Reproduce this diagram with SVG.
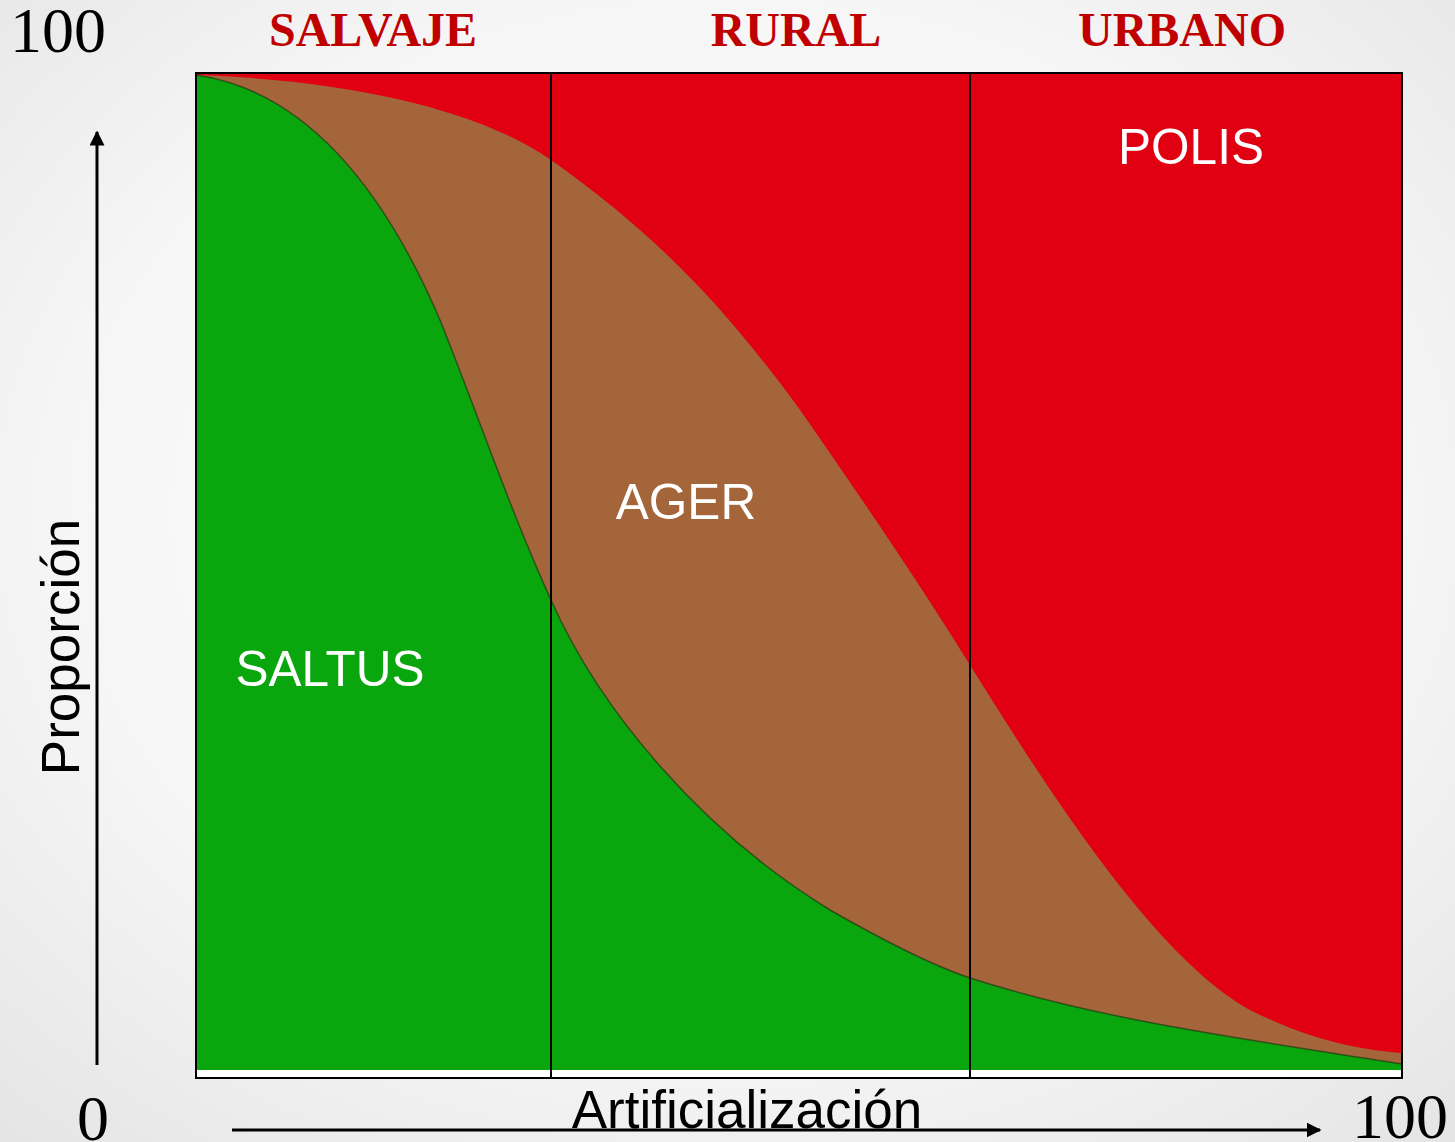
<svg xmlns="http://www.w3.org/2000/svg" width="1455" height="1142" viewBox="0 0 1455 1142">
<defs>
<radialGradient id="bg" cx="50%" cy="45%" r="75%">
<stop offset="0" stop-color="#ffffff"/>
<stop offset="0.6" stop-color="#f6f6f6"/>
<stop offset="1" stop-color="#e4e4e4"/>
</radialGradient>
<marker id="arr" viewBox="0 0 10 10" refX="9" refY="5" markerWidth="5" markerHeight="5" orient="auto" markerUnits="strokeWidth">
<path d="M0,0 L10,5 L0,10 Z" fill="#000"/>
</marker>
<style>
.zone{font-family:"Liberation Serif","Times New Roman",serif;font-weight:bold;font-size:48px;fill:#c00000;}
.num{font-family:"Liberation Serif","Times New Roman",serif;font-size:64px;fill:#000;}
.lbl{font-family:"Liberation Sans",Arial,sans-serif;font-size:49.5px;fill:#fff;}
.ax{font-family:"Liberation Sans",Arial,sans-serif;font-size:53px;fill:#000;}
.axis{stroke:#000;stroke-width:3;fill:none;}
.div{stroke:#000;stroke-width:2;}
</style>
</defs>
<rect width="1455" height="1142" fill="url(#bg)"/>

<g id="chart">
<rect x="196" y="73" width="1206" height="1005" fill="#ffffff"/>
<rect x="196" y="73" width="1206" height="997" fill="#e00012"/>
<path id="ager-area" d="M196,75 C350,80 480,110 551,160 C650,230 720,300 800,410 C870,510 930,600 970,665 C1060,810 1160,960 1250,1010 C1320,1045 1370,1050 1402,1053 L1402,1070 L196,1070 Z" fill="#a5653a"/>
<path id="saltus-area" d="M196,75 C300,90 380,180 440,320 C480,420 510,510 551,600 C600,710 700,830 830,910 C900,950 940,968 970,978 C1100,1020 1250,1040 1402,1064 L1402,1070 L196,1070 Z" fill="#0aa60e" stroke="none"/>
<path d="M196,75 C300,90 380,180 440,320 C480,420 510,510 551,600 C600,710 700,830 830,910 C900,950 940,968 970,978 C1100,1020 1250,1040 1402,1064" fill="none" stroke="#1d3a12" stroke-width="1.5" opacity="0.7"/>
<line class="div" x1="551" y1="73" x2="551" y2="1078"/>
<line class="div" x1="970" y1="73" x2="970" y2="1078"/>
<rect x="196" y="73" width="1206" height="1005" fill="none" stroke="#000" stroke-width="2"/>
</g>

<g id="node-salvaje"><text class="zone" x="373" y="46" text-anchor="middle">SALVAJE</text></g>
<g id="node-rural"><text class="zone" x="796" y="46" text-anchor="middle">RURAL</text></g>
<g id="node-urbano"><text class="zone" x="1182" y="46" text-anchor="middle">URBANO</text></g>

<g id="node-polis"><text class="lbl" x="1191" y="164" text-anchor="middle">POLIS</text></g>
<g id="node-ager"><text class="lbl" x="686" y="519" text-anchor="middle">AGER</text></g>
<g id="node-saltus"><text class="lbl" x="330" y="686" text-anchor="middle">SALTUS</text></g>

<g id="connectors">
<line class="axis" x1="97" y1="1065" x2="97" y2="132" marker-end="url(#arr)"/>
<line class="axis" x1="232" y1="1130" x2="1320" y2="1130" marker-end="url(#arr)"/>
</g>

<g id="labels">
<text class="num" x="58" y="52" text-anchor="middle">100</text>
<text class="num" x="93" y="1140" text-anchor="middle">0</text>
<text class="num" x="1400" y="1138" text-anchor="middle">100</text>
<text class="ax" x="747" y="1128" text-anchor="middle">Artificialización</text>
<text class="ax" transform="translate(79,647) rotate(-90)" text-anchor="middle">Proporción</text>
</g>
</svg>
